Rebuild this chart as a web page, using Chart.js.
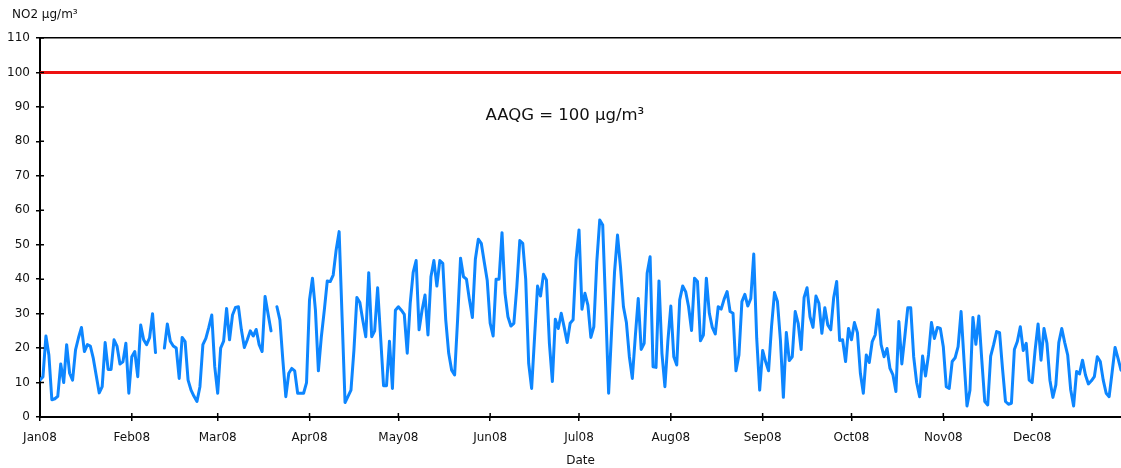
<!DOCTYPE html>
<html lang="en">
<head>
<meta charset="utf-8">
<title>NO2 daily concentrations 2008</title>
<script src="https://cdn.jsdelivr.net/npm/chart.js@4.4.1/dist/chart.umd.min.js"></script>
<style>
  html, body { margin: 0; padding: 0; background: #fff; }
  #wrap { position: relative; width: 1121px; height: 468px; }
</style>
</head>
<body>
<div id="wrap"><canvas id="no2Chart"></canvas></div>
<script>
// Daily NO2 means (µg/m³), one array per month. null = no measurement that day.
const janValues = [10.7, 11.7, 23.5, 18, 5, 5.3, 6, 15.4, 10, 21, 12.7, 10.7, 19.5, 23, 26, 19, 21, 20.6, 17, 12, 7, 8.8, 21.6, 13.8, 13.8, 22.4, 20.6, 15.4, 16, 21.4, 6.9];
const febValues = [17.5, 19, 11.7, 26.7, 22.4, 21, 23, 30, 18.7, null, null, 20, 27, 22, 20.6, 20, 11.2, 23.1, 21.9, 10.7, 7.8, 6, 4.5, 8.8, 21, 22.8, 26, 29.6, 14.6];
const marValues = [6.9, 20, 22, 31.5, 22.4, 29.6, 31.8, 32, 25.3, 20.2, 22.4, 25, 23.5, 25.4, 21, 19, 35, 30, 25, null, 32, 28.2, 16.5, 5.9, 12.7, 14.1, 13.4, 6.9, 6.9, 6.9, 10];
const aprValues = [34, 40.3, 31, 13.4, 23.3, 31, 39.5, 39.3, 41.2, 48.5, 53.8, 29, 4.2, 6, 7.8, 19.4, 34.7, 33.2, 28, 23.3, 41.9, 23.3, 25, 37.5, 23.3, 9.1, 9.1, 22, 8.3, 31];
const mayValues = [32, 31, 29.8, 18.5, 33, 42, 45.4, 25.3, 31, 35.4, 23.8, 40.7, 45.4, 38, 45.4, 44.6, 28.2, 18.5, 13.6, 12.2, 28.2, 46.1, 40.7, 40, 34, 28.9, 45.8, 51.6, 50.4, 45, 39.7];
const junValues = [27.2, 23.5, 40, 40, 53.5, 36, 29.1, 26.4, 27.2, 37.8, 51.2, 50.4, 40, 15.6, 8.3, 23.3, 38, 35.1, 41.4, 39.8, 21.4, 10.3, 28.4, 25.7, 30.1, 26, 21.6, 27.2, 28.2, 45.6];
const julValues = [54.3, 31.3, 35.9, 32.5, 23.1, 26.2, 45, 57.2, 55.7, 32, 6.9, 25, 42.2, 52.8, 43.6, 32, 27.4, 17.5, 11.2, 23.3, 34.4, 19.6, 21.4, 41.7, 46.5, 14.6, 14.4, 39.5, 18.5, 8.8, 22];
const augValues = [32.2, 17.5, 15.1, 34, 38, 36.4, 32, 25.1, 40.3, 39.3, 22.1, 23.8, 40.3, 30.1, 26, 24.1, 32, 31.3, 34.2, 36.4, 30.6, 30.1, 13.4, 18, 33.5, 35.6, 32.2, 34.4, 47.3, 22.8, 7.8];
const sepValues = [19.3, 16.1, 13.4, 26.2, 36.1, 33.5, 22.4, 5.7, 24.5, 16.4, 17.5, 30.6, 27.2, 19.6, 34.7, 37.5, 29.1, 26, 35.1, 33, 24.3, 31.7, 26.7, 25.3, 34.7, 39.3, 22.2, 22.4, 16.1, 25.7];
const octValues = [22.4, 27.4, 24.5, 12.7, 6.9, 18, 15.8, 21.9, 23.8, 31.1, 21, 17.5, 19.9, 14.1, 12.2, 7.4, 27.7, 15.4, 23.3, 31.7, 31.7, 17.5, 10, 5.9, 17.7, 11.9, 18, 27.4, 22.8, 26, 25.7];
const novValues = [20.4, 8.8, 8.3, 16.1, 17.2, 20.4, 30.6, 16.5, 3.2, 7.8, 28.9, 21.1, 29.3, 16.5, 4.5, 3.5, 17.7, 21, 24.8, 24.5, 14, 4.5, 3.7, 4, 19.6, 21.9, 26.2, 19.3, 21.4, 10.7];
const decValues = [10, 19.4, 27, 16.5, 25.7, 21.4, 10.7, 5.7, 9.3, 21.6, 25.7, 21.6, 18, 8, 3.2, 13.2, 12.5, 16.5, 12.2, 9.6, 10.5, 11.7, 17.5, 16.1, 10.7, 6.9, 5.9, 13, 20.2, 17, 13.6];

const monthLabels = ['Jan08', 'Feb08', 'Mar08', 'Apr08', 'May08', 'Jun08', 'Jul08', 'Aug08', 'Sep08', 'Oct08', 'Nov08', 'Dec08'];
const monthStartDays = [0, 31, 60, 91, 121, 152, 182, 213, 244, 274, 305, 335];
const guidelineLevel = 100;
const yAxisMax = 110;

const unitLabel = 'NO2 µg/m³';
const guidelineLabel = 'AAQG = 100 µg/m³';

const dailyValues = [].concat(janValues, febValues, marValues, aprValues, mayValues, junValues,
    julValues, augValues, sepValues, octValues, novValues, decValues);
const lastDay = dailyValues.length - 1;
const dailyPoints = dailyValues.map((v, i) => ({ x: i, y: v }));

const fontStack = '"DejaVu Sans", Verdana, sans-serif';
Chart.defaults.font.family = fontStack;
Chart.defaults.font.size = 12;
Chart.defaults.color = '#111';

// short tick marks on the inner side of both axes
const innerTicks = {
    id: 'innerTicks',
    afterDatasetsDraw(chart) {
        const { ctx, chartArea, scales: { x, y } } = chart;
        ctx.save();
        ctx.strokeStyle = '#000';
        ctx.lineWidth = 1.5;
        ctx.beginPath();
        y.ticks.forEach(t => {
            const py = y.getPixelForValue(t.value);
            ctx.moveTo(chartArea.left, py);
            ctx.lineTo(chartArea.left + 4, py);
        });
        x.ticks.forEach(t => {
            const px = x.getPixelForValue(t.value);
            ctx.moveTo(px, chartArea.bottom);
            ctx.lineTo(px, chartArea.bottom - 4);
        });
        ctx.stroke();
        ctx.restore();
    }
};

// unit caption above the y axis and the guideline note
const chartNotes = {
    id: 'chartNotes',
    afterDraw(chart) {
        const { ctx, scales: { x, y } } = chart;
        ctx.save();
        ctx.fillStyle = '#111';
        ctx.textBaseline = 'middle';
        ctx.font = '12px ' + fontStack;
        ctx.textAlign = 'left';
        ctx.fillText(unitLabel, 12, 15);
        ctx.font = '16.5px ' + fontStack;
        ctx.textAlign = 'center';
        ctx.fillText(guidelineLabel, x.getPixelForValue(177.2), y.getPixelForValue(87.4));
        ctx.restore();
    }
};

new Chart(document.getElementById('no2Chart'), {
    type: 'line',
    data: {
        datasets: [
            {
                label: 'NO2',
                data: dailyPoints,
                borderColor: '#0d86ff',
                borderWidth: 3,
                borderJoinStyle: 'round',
                borderCapStyle: 'round',
                pointRadius: 0,
                tension: 0,
                spanGaps: false
            },
            {
                label: 'AAQG',
                data: [{ x: 0, y: guidelineLevel }, { x: lastDay, y: guidelineLevel }],
                borderColor: '#ee1111',
                borderWidth: 3,
                pointRadius: 0
            }
        ]
    },
    options: {
        responsive: true,
        maintainAspectRatio: false,
        animation: false,
        layout: { padding: { top: 38, left: 0, right: 0, bottom: 0 } },
        plugins: {
            legend: { display: false },
            tooltip: { enabled: false }
        },
        scales: {
            x: {
                type: 'linear',
                min: 0,
                max: lastDay,
                afterBuildTicks: (scale) => {
                    scale.ticks = monthStartDays.map(d => ({ value: d }));
                },
                afterFit: (scale) => { scale.height = 51; },
                ticks: {
                    autoSkip: false,
                    maxRotation: 0,
                    padding: 10,
                    color: '#111',
                    font: { size: 12 },
                    callback: (value, index) => monthLabels[index]
                },
                grid: {
                    drawOnChartArea: false,
                    tickLength: 4,
                    tickColor: '#000',
                    lineWidth: 1.5
                },
                border: { display: true, color: '#000', width: 2 },
                title: {
                    display: true,
                    text: 'Date',
                    color: '#111',
                    font: { size: 12 },
                    padding: { top: 0, bottom: 0 }
                }
            },
            y: {
                min: 0,
                max: yAxisMax,
                afterFit: (scale) => { scale.width = 40; },
                ticks: {
                    stepSize: 5,
                    padding: 6,
                    color: '#111',
                    font: { size: 12 },
                    callback: (value) => (value % 10 === 0 ? value : '')
                },
                grid: {
                    color: (ctx) => (ctx.tick && ctx.tick.value === yAxisMax ? '#000' : 'rgba(0,0,0,0)'),
                    tickColor: '#000',
                    tickLength: 4,
                    lineWidth: 1.5
                },
                border: { display: true, color: '#000', width: 2 }
            }
        }
    },
    plugins: [innerTicks, chartNotes]
});
</script>
</body>
</html>
